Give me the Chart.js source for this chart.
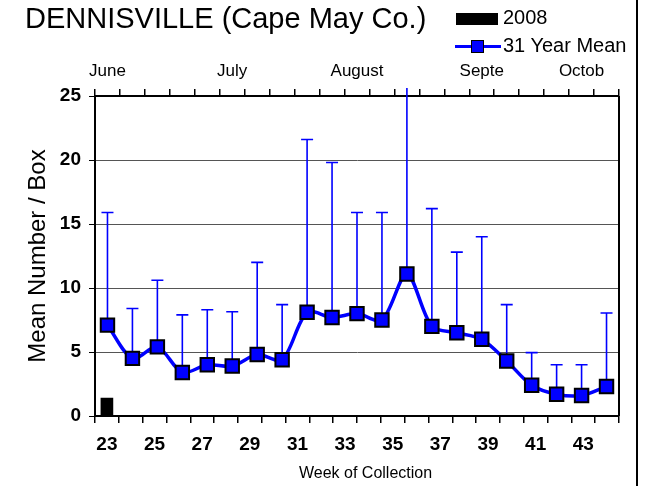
<!DOCTYPE html>
<html>
<head>
<meta charset="utf-8">
<script src="https://cdn.jsdelivr.net/npm/chart.js@4"></script>
<style>
  body { margin: 0; background: #fff; font-family: "Liberation Sans", Arial, sans-serif; }
  #wrap { position: relative; width: 646px; height: 486px; }
  #title { position: absolute; left: 25px; top: 3.5px; font-size: 29px; line-height: 29px; color: #000; white-space: nowrap; }
  .leg { position: absolute; white-space: nowrap; color: #000; }
  .txt { font-size: 20px; line-height: 20px; }
  #xtitle { position: absolute; left: 299px; top: 465px; font-size: 16px; line-height: 16px; white-space: nowrap; color: #000; }
  #frame { position: absolute; left: 636px; top: 0; width: 2px; height: 486px; background: #000; }
</style>
</head>
<body>
<div id="wrap">
  <canvas id="chart" width="646" height="486"></canvas>
  <div id="title">DENNISVILLE (Cape May Co.)</div>
  <div class="leg" style="left:456px;top:13px;width:42px;height:12px;background:#000"></div>
  <div class="leg txt" style="left:503px;top:6.5px">2008</div>
  <div class="leg" style="left:455px;top:45px;width:46px;height:3px;background:#0000ff"></div>
  <div class="leg" style="left:471px;top:40px;width:11px;height:11px;background:#0000ff;border:1.5px solid #000"></div>
  <div class="leg txt" style="left:503px;top:34.5px">31 Year Mean</div>
  <div id="xtitle">Week of Collection</div>
  <div id="frame"></div>
</div>
<script>
// bottom axis: week numbers
const weeks = [23, 24, 25, 26, 27, 28, 29, 30, 31, 32, 33, 34, 35, 36, 37, 38, 39, 40, 41, 42, 43, 44];
// 2008 collection (only first week)
const count2008 = [1.4, null, null, null, null, null, null, null, null, null, null, null, null, null, null, null, null, null, null, null, null, null];

// top axis: month labels
const monthLabels = ['June', '', '', '', '', 'July', '', '', '', '', 'August', '', '', '', '', 'Septe', '', '', '', 'Octob', ''];
// 31 year mean and top of its error bar
const meanValues = [7.1, 4.5, 5.4, 3.4, 4.0, 3.9, 4.8, 4.4, 8.1, 7.7, 8.0, 7.5, 11.1, 7.0, 6.5, 6.0, 4.3, 2.4, 1.7, 1.6, 2.3];
const meanUpper = [15.9, 8.4, 10.6, 7.9, 8.3, 8.15, 12.0, 8.7, 21.6, 19.8, 15.9, 15.9, 30, 16.2, 12.8, 14.0, 8.7, 4.95, 4.0, 4.0, 8.05];

const yTicks = [0, 5, 10, 15, 20, 25];

// error bars, upper side only
const errorBars = {
    id: 'errorBars',
    beforeDatasetsDraw(chart) {
        const ctx = chart.ctx;
        const xs = chart.scales.x2;
        const ys = chart.scales.y;
        const area = chart.chartArea;
        ctx.save();
        ctx.beginPath();
        ctx.rect(area.left, area.top - 8, area.right - area.left, area.bottom - area.top + 8);
        ctx.clip();
        ctx.strokeStyle = '#0000ff';
        ctx.lineWidth = 1.6;
        meanValues.forEach((m, i) => {
            const x = xs.getPixelForValue(i);
            const y0 = ys.getPixelForValue(m);
            const y1 = ys.getPixelForValue(meanUpper[i]);
            ctx.beginPath();
            ctx.moveTo(x, y0);
            ctx.lineTo(x, y1);
            ctx.moveTo(x - 6, y1);
            ctx.lineTo(x + 6, y1);
            ctx.stroke();
        });
        ctx.restore();
    },
    afterDraw(chart) {
        // right edge of the plot box
        const ctx = chart.ctx;
        const a = chart.chartArea;
        ctx.save();
        ctx.strokeStyle = '#000';
        ctx.lineWidth = 2;
        ctx.beginPath();
        ctx.moveTo(a.right, a.top);
        ctx.lineTo(a.right, a.bottom);
        ctx.stroke();
        ctx.restore();
    }
};

const ctx = document.getElementById('chart').getContext('2d');
const chart = new Chart(ctx, {
    type: 'bar',
    data: {
        labels: weeks,
        datasets: [{
            type: 'line',
            label: '31 Year Mean',
            data: meanValues,
            xAxisID: 'x2',
            yAxisID: 'y',
            borderColor: '#0000ff',
            borderWidth: 3.5,
            tension: 0.3,
            pointStyle: 'rect',
            pointRadius: 9.5,
            pointBackgroundColor: '#0000ff',
            pointBorderColor: '#000',
            pointBorderWidth: 2,
            order: 0
        }, {
            type: 'bar',
            label: '2008',
            data: count2008,
            xAxisID: 'x',
            yAxisID: 'y',
            backgroundColor: '#000',
            barThickness: 12,
            grouped: false,
            order: 1
        }]
    },
    options: {
        responsive: false,
        animation: false,
        layout: { padding: { left: 0, right: 27, top: 0, bottom: 0 } },
        plugins: {
            legend: { display: false },
            tooltip: { enabled: false }
        },
        scales: {
            x: {
                type: 'category',
                position: 'bottom',
                offset: true,
                grid: { offset: true, drawOnChartArea: false, tickLength: 7, color: '#000', lineWidth: 1.5 },
                border: { color: '#000', width: 2 },
                ticks: {
                    autoSkip: false,
                    maxRotation: 0,
                    padding: 10,
                    color: '#000',
                    font: { family: 'Liberation Sans', size: 19, weight: 'bold' },
                    callback: (v, i) => i % 2 === 0 ? weeks[i] : ''
                },
                afterFit: s => { s.height = 70; }
            },
            x2: {
                type: 'category',
                position: 'top',
                labels: monthLabels,
                offset: true,
                grid: { offset: true, drawOnChartArea: false, tickLength: 7, color: '#000', lineWidth: 1.5 },
                border: { color: '#000', width: 2 },
                ticks: {
                    autoSkip: false,
                    maxRotation: 0,
                    padding: 7,
                    color: '#000',
                    font: { family: 'Liberation Sans', size: 17 },
                    callback: (v, i) => monthLabels[i]
                },
                afterFit: s => { s.height = 96; }
            },
            y: {
                min: 0,
                max: 25,
                afterBuildTicks: s => { s.ticks = yTicks.map(v => ({ value: v })); },
                grid: { color: '#555', tickColor: '#000', tickLength: 6, lineWidth: 1 },
                border: { color: '#000', width: 2 },
                ticks: {
                    padding: 8,
                    color: '#000',
                    font: { family: 'Liberation Sans', size: 19, weight: 'bold' }
                },
                title: {
                    display: true,
                    text: 'Mean Number / Box',
                    color: '#000',
                    font: { family: 'Liberation Sans', size: 24 },
                    padding: { top: 23.5, bottom: 0 }
                },
                afterFit: s => { s.width = 95; }
            }
        }
    },
    plugins: [errorBars]
});
</script>
</body>
</html>
